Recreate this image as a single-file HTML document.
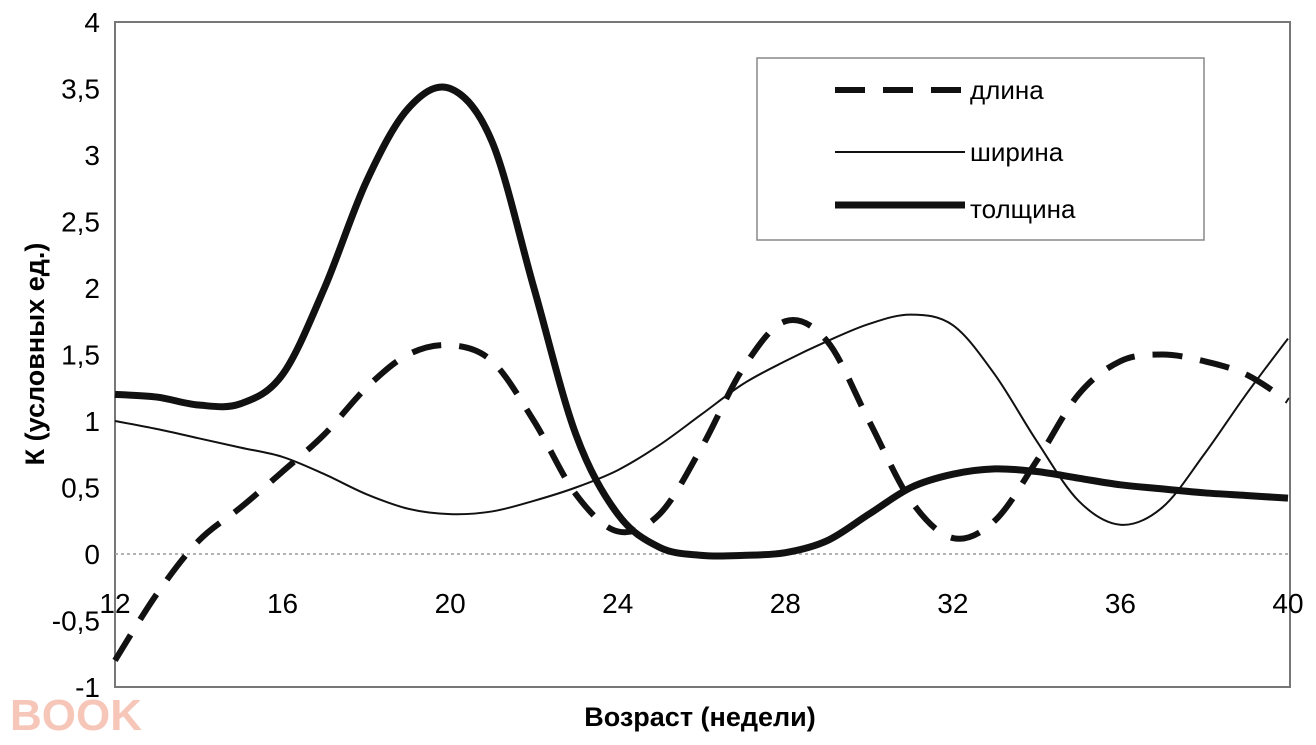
<!DOCTYPE html>
<html><head><meta charset="utf-8"><style>
body{margin:0;background:#fff;}
svg{display:block;font-family:"Liberation Sans",sans-serif;}
</style></head><body>
<svg id="chart" width="1316" height="745">
<rect x="115" y="22" width="1175" height="665" fill="none" stroke="#777" stroke-width="2"/>
<g id="axes"></g>
<g id="series"></g>
<text x="700" y="726" font-size="27" font-weight="bold" text-anchor="middle">Возраст (недели)</text>
<text transform="translate(44,354) rotate(-90)" font-size="27" font-weight="bold" text-anchor="middle">К (условных ед.)</text>
<g>
<rect x="757" y="58" width="447" height="182" fill="#fff" stroke="#888" stroke-width="1.5"/>
<line x1="835" y1="90" x2="965" y2="90" stroke="#111" stroke-width="6" stroke-dasharray="30,18"/>
<text x="970" y="99" font-size="26">длина</text>
<line x1="835" y1="152" x2="965" y2="152" stroke="#111" stroke-width="2"/>
<text x="970" y="161" font-size="26">ширина</text>
<line x1="835" y1="205" x2="965" y2="205" stroke="#111" stroke-width="7"/>
<text x="970" y="218" font-size="26">толщина</text>
</g>
<text x="10" y="730" font-size="44" font-weight="bold" fill="#f4b9a8" opacity="0.8">BOOK</text>
</svg>
<script>
const weeks=[12,13,14,15,16,17,18,19,20,21,22,23,24,25,26,27,28,29,30,31,32,33,34,35,36,37,38,39,40];
const lengthVals=[-0.8,-0.3,0.1,0.35,0.62,0.9,1.25,1.5,1.57,1.45,1.0,0.45,0.17,0.3,0.8,1.4,1.75,1.6,1.0,0.4,0.12,0.25,0.7,1.2,1.45,1.5,1.45,1.35,1.15];
const widthVals=[1.0,0.94,0.87,0.8,0.73,0.6,0.45,0.34,0.3,0.32,0.4,0.5,0.63,0.82,1.05,1.28,1.45,1.6,1.73,1.8,1.72,1.35,0.85,0.4,0.22,0.35,0.75,1.2,1.62];
const thickVals=[1.2,1.18,1.12,1.13,1.35,2.0,2.8,3.35,3.5,3.1,2.0,0.9,0.3,0.05,-0.01,-0.01,0.01,0.1,0.3,0.5,0.6,0.64,0.62,0.57,0.52,0.49,0.46,0.44,0.42];
const xTicks=[12,16,20,24,28,32,36,40];
const yTicks=[-1,-0.5,0,0.5,1,1.5,2,2.5,3,3.5,4];
const X=v=>115+(v-12)*(1173/28);
const Y=v=>554-v*133;
const NS="http://www.w3.org/2000/svg";
const axes=document.getElementById('axes'),series=document.getElementById('series');
function mk(tag,attrs,parent){const e=document.createElementNS(NS,tag);for(const k in attrs)e.setAttribute(k,attrs[k]);parent.appendChild(e);return e;}
const zl=mk('line',{x1:115,x2:1290,y1:Y(0),y2:Y(0),stroke:'#999','stroke-width':1.5,'stroke-dasharray':'3,3'},axes);


yTicks.forEach(t=>{const e=mk('text',{x:100,y:Y(t)+10,'font-size':28,'text-anchor':'end'},axes);e.textContent=String(t).replace('.',',');

});
xTicks.forEach(t=>{const e=mk('text',{x:X(t),y:613,'font-size':28,'text-anchor':'middle'},axes);e.textContent=t;

});
function path(vals){const p=weeks.map((w,i)=>[X(w),Y(vals[i])]);let d='M'+p[0][0]+','+p[0][1];
for(let i=0;i<p.length-1;i++){const p0=p[Math.max(0,i-1)],p1=p[i],p2=p[i+1],p3=p[Math.min(p.length-1,i+2)];
d+=' C'+(p1[0]+(p2[0]-p0[0])/6)+','+(p1[1]+(p2[1]-p0[1])/6)+' '+(p2[0]-(p3[0]-p1[0])/6)+','+(p2[1]-(p3[1]-p1[1])/6)+' '+p2[0]+','+p2[1];}
return d;}
const l1=mk('path',{d:path(widthVals),fill:'none',stroke:'#111','stroke-width':2},series);


const l2=mk('path',{d:path(lengthVals),fill:'none',stroke:'#111','stroke-width':6,'stroke-dasharray':'30,18'},series);


const l3=mk('path',{d:path(thickVals),fill:'none',stroke:'#111','stroke-width':7},series);


</script>
</body></html>
